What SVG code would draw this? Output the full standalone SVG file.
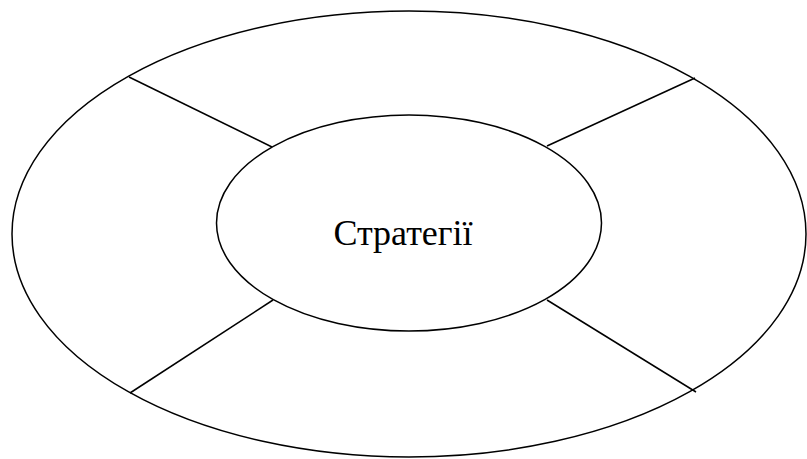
<svg xmlns="http://www.w3.org/2000/svg" width="807" height="459" viewBox="0 0 807 459">
<style>
.s{fill:none;stroke:#000;stroke-width:1.5}
.t{font-family:"Liberation Serif","Times New Roman",serif;font-size:36px;fill:#000}
</style>
<rect width="807" height="459" fill="#fff"/>
<g id="outer"><ellipse class="s" cx="409" cy="234" rx="397" ry="223"/></g>
<g id="connectors">
<line class="s" x1="129" y1="77" x2="272" y2="147"/>
<line class="s" x1="695" y1="78" x2="547" y2="146"/>
<line class="s" x1="130" y1="393" x2="273" y2="300"/>
<line class="s" x1="696" y1="392" x2="547" y2="300"/>
</g>
<g id="center">
<ellipse class="s" cx="409" cy="223" rx="192.5" ry="108" fill="#fff"/>
<text class="t" x="403" y="245" text-anchor="middle">Стратегії</text>
</g>
</svg>
